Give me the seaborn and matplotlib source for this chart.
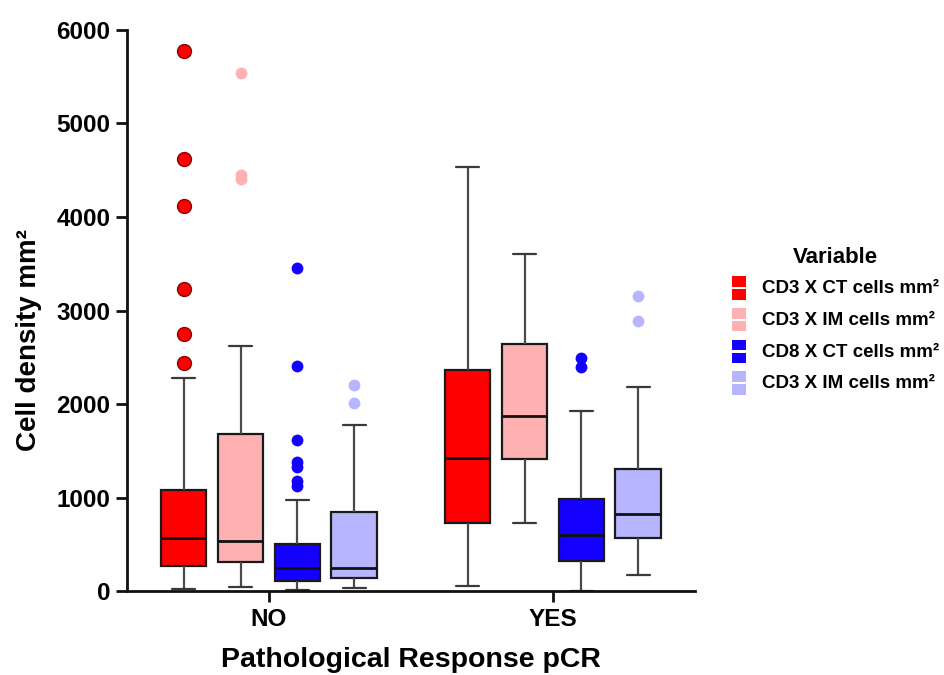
import numpy as np
import pandas as pd
import seaborn as sns
import matplotlib
matplotlib.use("Agg")
import matplotlib.pyplot as plt
from matplotlib.patches import Rectangle, Patch

# Datos (cuartiles, bigotes y atípicos por caja)
grupos = ["NO", "YES"]
variables = ["CD3 CT", "CD3 IM", "CD8 CT", "CD8 IM"]
etiquetas = ["CD3 X CT cells mm²", "CD3 X IM cells mm²",
             "CD8 X CT cells mm²", "CD3 X IM cells mm²"]
colores = ["#FF0000", "#FFB0B0", "#1400FF", "#B8B5FF"]

bigote_inf = [[20, 45, 12, 28], [50, 725, 5, 170]]
q1 = [[270, 310, 105, 140], [730, 1410, 320, 565]]
mediana = [[565, 535, 245, 250], [1425, 1870, 600, 825]]
q3 = [[1080, 1680, 500, 845], [2365, 2640, 985, 1300]]
bigote_sup = [[2280, 2620, 970, 1780], [4530, 3600, 1925, 2180]]
atipicos = [
    [[2440, 2750, 3230, 4120, 4620, 5780],
     [4410, 4450, 5540],
     [1120, 1180, 1330, 1385, 1620, 2410, 3450],
     [2015, 2205]],
    [[], [], [2395, 2495], [2890, 3160]],
]

# armar las muestras que reproducen cada caja
filas = []
for i, g in enumerate(grupos):
    for j, v in enumerate(variables):
        k = 1 + len(atipicos[i][j])
        vals = ([bigote_inf[i][j]] + [q1[i][j]] * k + [mediana[i][j]] * k
                + [q3[i][j]] * k + [bigote_sup[i][j]] + atipicos[i][j])
        for val in vals:
            filas.append({"pCR": g, "variable": v, "densidad": val})
df = pd.DataFrame(filas)

sns.set_style("ticks")
plt.rcParams["font.family"] = ["Liberation Sans", "DejaVu Sans"]
for clave in ["text.color", "axes.labelcolor", "xtick.color", "ytick.color"]:
    plt.rcParams[clave] = "black"

fig = plt.figure(figsize=(9.44, 6.75), dpi=100)
ax = fig.add_axes([0.1345, 0.1244, 0.6017, 0.8312])

sns.boxplot(data=df, x="pCR", y="densidad", hue="variable", order=grupos,
            hue_order=variables, palette=colores, saturation=1, gap=0.2,
            whis=1.5, linecolor="#1a1a1a", linewidth=1.6, fliersize=8.5,
            legend=False,
            whiskerprops=dict(color="#4a4a4a"), capprops=dict(color="#3a3a3a"),
            medianprops=dict(color="#111111", linewidth=2),
            flierprops=dict(marker="o", markeredgewidth=0), ax=ax)

# colorear los atípicos según la variable
for ln in ax.lines:
    if ln.get_marker() == "o" and len(ln.get_xdata()) > 0:
        x = ln.get_xdata()[0]
        h = int(round((x - round(x) + 0.3) / 0.2))
        ln.set_markerfacecolor(colores[h])
        ln.set_color(colores[h])
        if h == 0:
            ln.set_markersize(10)
            ln.set_markeredgewidth(1)
            ln.set_markeredgecolor("#8a0000")

ax.set_xlim(-0.5, 1.5)
ax.set_ylim(0, 6000)
ax.set_yticks(np.arange(0, 6001, 1000))
sns.despine(ax=ax)
for s in ["left", "bottom"]:
    ax.spines[s].set_linewidth(2)
    ax.spines[s].set_color("#111111")
ax.tick_params(axis="both", width=2, length=8, color="#111111", pad=4)
for t in ax.get_xticklabels() + ax.get_yticklabels():
    t.set_fontsize(17.5)
    t.set_fontweight("bold")
ax.set_xlabel("Pathological Response pCR", fontsize=20.5, fontweight="bold",
              labelpad=12)
ax.set_ylabel("Cell density mm²", fontsize=20, fontweight="bold")
ax.yaxis.set_label_coords(-0.15, 0.447)


class DosCuadros:
    def legend_artist(self, legend, orig_handle, fontsize, handlebox):
        x0, y0 = handlebox.xdescent, handlebox.ydescent
        w, h = handlebox.width, handlebox.height
        c = orig_handle.get_facecolor()
        r = None
        for k in range(2):
            r = Rectangle((-x0, -y0 + k * h / 2), w, h / 2 - 1.5,
                          facecolor=c, edgecolor="none",
                          transform=handlebox.get_transform())
            handlebox.add_artist(r)
        return r


handles = [Patch(facecolor=c) for c in colores]
leg = fig.legend(handles, etiquetas, title="Variable", loc="upper left",
                 bbox_to_anchor=(0.7754, 0.6346), frameon=False,
                 prop=dict(size=13.5, weight="bold"),
                 title_fontproperties=dict(size=16, weight="bold"),
                 handlelength=0.75, handleheight=1.75, handletextpad=0.85,
                 labelspacing=0.32, borderpad=0, borderaxespad=0,
                 handler_map={Patch: DosCuadros()})

fig.savefig("out.png", dpi=100)
